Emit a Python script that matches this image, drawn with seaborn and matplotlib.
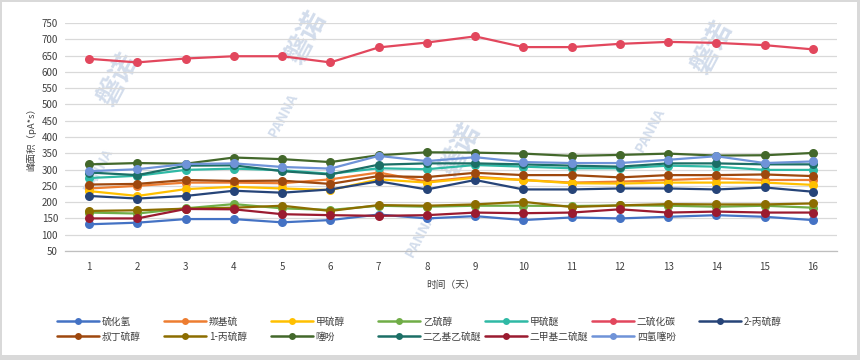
import numpy as np
import pandas as pd
import seaborn as sns
import matplotlib
matplotlib.use("Agg")
import matplotlib.pyplot as plt
from matplotlib.lines import Line2D
from matplotlib.patches import Rectangle

days = list(range(1, 17))

compounds = ["硫化氢", "羰基硫", "甲硫醇", "乙硫醇", "甲硫醚", "二硫化碳", "2-丙硫醇",
             "叔丁硫醇", "1-丙硫醇", "噻吩", "二乙基乙硫醚", "二甲基二硫醚", "四氢噻吩"]

h2s      = [132, 137, 148, 148, 138, 145, 162, 150, 157, 145, 153, 150, 155, 160, 155, 145]
cos_     = [242, 250, 260, 260, 258, 270, 291, 263, 278, 268, 260, 263, 268, 273, 268, 268]
mesh     = [234, 219, 240, 247, 242, 237, 270, 260, 275, 268, 258, 257, 260, 260, 260, 253]
etsh     = [168, 165, 181, 194, 181, 176, 189, 186, 189, 189, 188, 190, 189, 186, 189, 183]
dms      = [274, 281, 299, 303, 298, 287, 304, 301, 314, 309, 304, 304, 312, 309, 299, 299]
cs2      = [640, 629, 641, 648, 648, 629, 675, 690, 709, 676, 676, 686, 692, 689, 682, 669]
iprsh    = [219, 211, 219, 235, 229, 239, 264, 239, 268, 239, 239, 242, 242, 239, 245, 232]
tbsh     = [254, 256, 268, 265, 266, 256, 280, 277, 290, 283, 283, 276, 283, 283, 285, 280]
nprsh    = [173, 175, 180, 183, 189, 173, 191, 189, 193, 201, 185, 190, 194, 193, 193, 196]
thio     = [316, 320, 318, 337, 332, 323, 344, 353, 352, 349, 342, 345, 349, 343, 344, 351]
dees     = [291, 283, 312, 313, 295, 285, 315, 319, 319, 316, 312, 309, 319, 319, 316, 316]
dmds     = [150, 150, 179, 178, 163, 160, 158, 160, 168, 166, 168, 178, 168, 171, 168, 168]
tht      = [295, 301, 317, 319, 308, 303, 342, 326, 338, 323, 320, 320, 330, 341, 320, 325]

series = [h2s, cos_, mesh, etsh, dms, cs2, iprsh, tbsh, nprsh, thio, dees, dmds, tht]

colors = ["#4472C4", "#ED7D31", "#FFC000", "#70AD47", "#2FB9A5", "#E2475D", "#264478",
          "#9E480E", "#8C6D00", "#43682B", "#1C6F66", "#9B1B30", "#6F93D8"]
palette = dict(zip(compounds, colors))

rows = []
for name, vals in zip(compounds, series):
    for d, v in zip(days, vals):
        rows.append({"day": d, "value": v, "compound": name})
df = pd.DataFrame(rows)

sns.set_style("white")
plt.rcParams['font.family'] = ['Noto Sans CJK SC', 'DejaVu Sans']

fig = plt.figure(figsize=(8.6, 3.6), dpi=100)
fig.patch.set_facecolor("#D9D9D9")
fig.patches.append(Rectangle((2 / 860, 5 / 360), 855 / 860, 353 / 360,
                             transform=fig.transFigure, facecolor="white",
                             edgecolor="none", zorder=-10))

ax = fig.add_axes([65 / 860, 1 - 251 / 360, (837 - 65) / 860, (251 - 23) / 360])
ax.set_facecolor("none")

# faint watermark text
wm_color = "#D3DDEC"
for (x, y, s, r) in [(118, 80, "磐诺", 62), (306, 38, "磐诺", 62), (460, 150, "磐诺", 62),
                     (712, 48, "磐诺", 62)]:
    fig.text(x / 860, 1 - y / 360, s, fontsize=20, color=wm_color, rotation=r,
             ha="center", va="center", fontweight="bold", zorder=-5)
for (x, y) in [(98, 170), (283, 115), (420, 235), (650, 130)]:
    fig.text(x / 860, 1 - y / 360, "PANNA", fontsize=10, color=wm_color, rotation=62,
             ha="center", va="center", fontweight="bold", zorder=-5)

sns.lineplot(data=df, x="day", y="value", hue="compound", palette=palette,
             hue_order=compounds, marker="o", markersize=6.5, markeredgewidth=0,
             linewidth=1.6, ax=ax, legend=False)

ax.set_xlim(0.5, 16.5)
ax.set_ylim(50, 750)
ax.set_yticks(np.arange(50, 751, 50))
ax.set_xticks(days)
ax.set_xticks(np.arange(0.5, 16.6, 1), minor=True)
ax.tick_params(axis="x", which="major", length=0, pad=8, labelsize=7, labelcolor="#404040")
ax.tick_params(axis="x", which="minor", length=4, color="#BFBFBF", width=0.8)
ax.tick_params(axis="y", length=0, pad=5, labelsize=7, labelcolor="#404040")
ax.grid(axis="y", color="#D9D9D9", linewidth=0.9)
ax.grid(axis="x", visible=False)
for s in ["top", "right", "left"]:
    ax.spines[s].set_visible(False)
ax.spines["bottom"].set_color("#BFBFBF")
ax.spines["bottom"].set_linewidth(0.9)
ax.set_xlabel("时间（天）", fontsize=7, color="#404040", labelpad=6)
ax.set_ylabel("峰面积（pA*s）", fontsize=6.8, color="#404040", labelpad=4)

# legend: 7 columns, row-wise ordering, fixed column spacing
order_rows = [compounds[:7], compounds[7:]]
for i in range(7):
    names = [r[i] for r in order_rows if i < len(r)]
    handles = [Line2D([], [], color=palette[n], marker="o", markersize=5,
                      markeredgewidth=0, linewidth=1.8) for n in names]
    fig.legend(handles, names, loc="upper left",
               bbox_to_anchor=((57 + 107 * i) / 860, 1 - 316.5 / 360),
               frameon=False, fontsize=7, borderpad=0, borderaxespad=0,
               handlelength=4.3, handletextpad=0.3, labelspacing=0.55,
               labelcolor="#404040")

fig.savefig("out.png", dpi=100, facecolor=fig.get_facecolor())
